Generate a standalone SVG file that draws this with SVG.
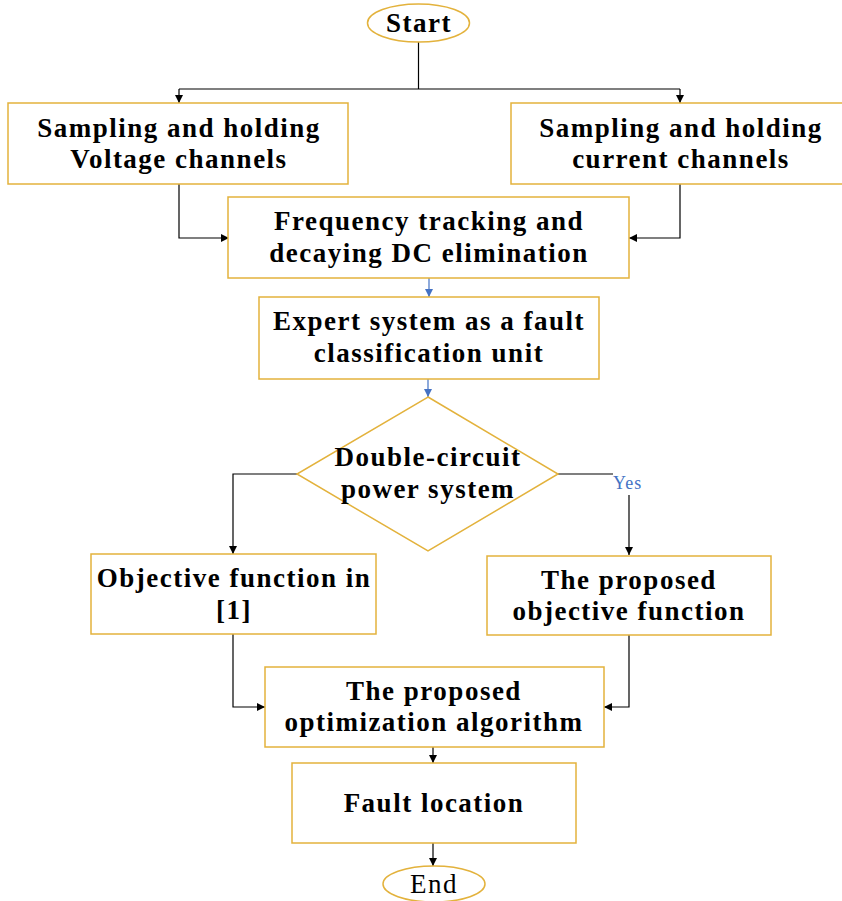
<svg xmlns="http://www.w3.org/2000/svg" width="842" height="901" viewBox="0 0 842 901">
<style>
.box{fill:#fff;stroke:#E3B23C;stroke-width:1.5}
.t{font-family:"Liberation Serif","Times New Roman",serif;font-weight:bold;font-size:27px;letter-spacing:1.5px;fill:#000;text-anchor:middle}
.r{font-weight:normal}
.c{fill:none;stroke:#000;stroke-width:1.2}
.b{fill:none;stroke:#4472C4;stroke-width:1.2}
.yes{font-family:"Liberation Serif","Times New Roman",serif;font-size:18px;letter-spacing:1px;fill:#4472C4}
</style>
<defs>
<marker id="ak" markerUnits="userSpaceOnUse" markerWidth="10" markerHeight="10" refX="8" refY="4" orient="auto"><path d="M0,0 L8,4 L0,8 Z" fill="#000"/></marker>
<marker id="ab" markerUnits="userSpaceOnUse" markerWidth="10" markerHeight="10" refX="8" refY="4" orient="auto"><path d="M0,0 L8,4 L0,8 Z" fill="#4472C4"/></marker>
</defs>
<rect width="842" height="901" fill="#fff"/>
<g id="connectors">
<path class="c" d="M418.5,42 V89"/>
<path class="c" d="M179,89 H680"/>
<path class="c" d="M179,89 V103" marker-end="url(#ak)"/>
<path class="c" d="M680,89 V103" marker-end="url(#ak)"/>
<path class="c" d="M179,184 V238 H229" marker-end="url(#ak)"/>
<path class="c" d="M680,184 V238 H629" marker-end="url(#ak)"/>
<path class="b" d="M429,278 V297" marker-end="url(#ab)"/>
<path class="b" d="M428,379 V397" marker-end="url(#ab)"/>
<path class="c" d="M297,474 H233 V554" marker-end="url(#ak)"/>
<path class="c" d="M558,474 H613"/>
<path class="c" d="M629,495 V555" marker-end="url(#ak)"/>
<path class="c" d="M233,634 V707 H265" marker-end="url(#ak)"/>
<path class="c" d="M629,635 V707 H604" marker-end="url(#ak)"/>
<path class="c" d="M433,747 V763" marker-end="url(#ak)"/>
<path class="c" d="M433,843 V866" marker-end="url(#ak)"/>
<text class="yes" x="613" y="489">Yes</text>
</g>
<g id="start">
<ellipse class="box" cx="418.5" cy="23" rx="51" ry="19"/>
<text class="t" x="419" y="32">Start</text>
</g>
<g id="sample-voltage">
<rect class="box" x="8" y="103" width="340" height="81"/>
<text class="t" x="179" y="137">Sampling and holding</text>
<text class="t" x="179" y="168">Voltage channels</text>
</g>
<g id="sample-current">
<rect class="box" x="511" y="103" width="340" height="81"/>
<text class="t" x="681" y="137">Sampling and holding</text>
<text class="t" x="681" y="168">current channels</text>
</g>
<g id="frequency">
<rect class="box" x="228" y="197" width="401" height="81"/>
<text class="t" x="429" y="230">Frequency tracking and</text>
<text class="t" x="429" y="262">decaying DC elimination</text>
</g>
<g id="expert">
<rect class="box" x="259" y="297" width="340" height="82"/>
<text class="t" x="429" y="330">Expert system as a fault</text>
<text class="t" x="429" y="362">classification unit</text>
</g>
<g id="decision">
<polygon class="box" points="428,397 558,474 428,551 297,474"/>
<text class="t" x="428" y="466">Double-circuit</text>
<text class="t" x="428" y="498">power system</text>
</g>
<g id="objective-1">
<rect class="box" x="91" y="554" width="285" height="80"/>
<text class="t" x="234" y="587">Objective function in</text>
<text class="t" x="234" y="619">[1]</text>
</g>
<g id="proposed-objective">
<rect class="box" x="487" y="556" width="284" height="79"/>
<text class="t" x="629" y="589">The proposed</text>
<text class="t" x="629" y="620">objective function</text>
</g>
<g id="optimization">
<rect class="box" x="265" y="667" width="339" height="80"/>
<text class="t" x="434" y="700">The proposed</text>
<text class="t" x="434" y="731">optimization algorithm</text>
</g>
<g id="fault-location">
<rect class="box" x="292" y="763" width="284" height="80"/>
<text class="t" x="434" y="812">Fault location</text>
</g>
<g id="end">
<ellipse class="box" cx="434" cy="884" rx="51" ry="18"/>
<text class="t r" x="434" y="893">End</text>
</g>
</svg>
